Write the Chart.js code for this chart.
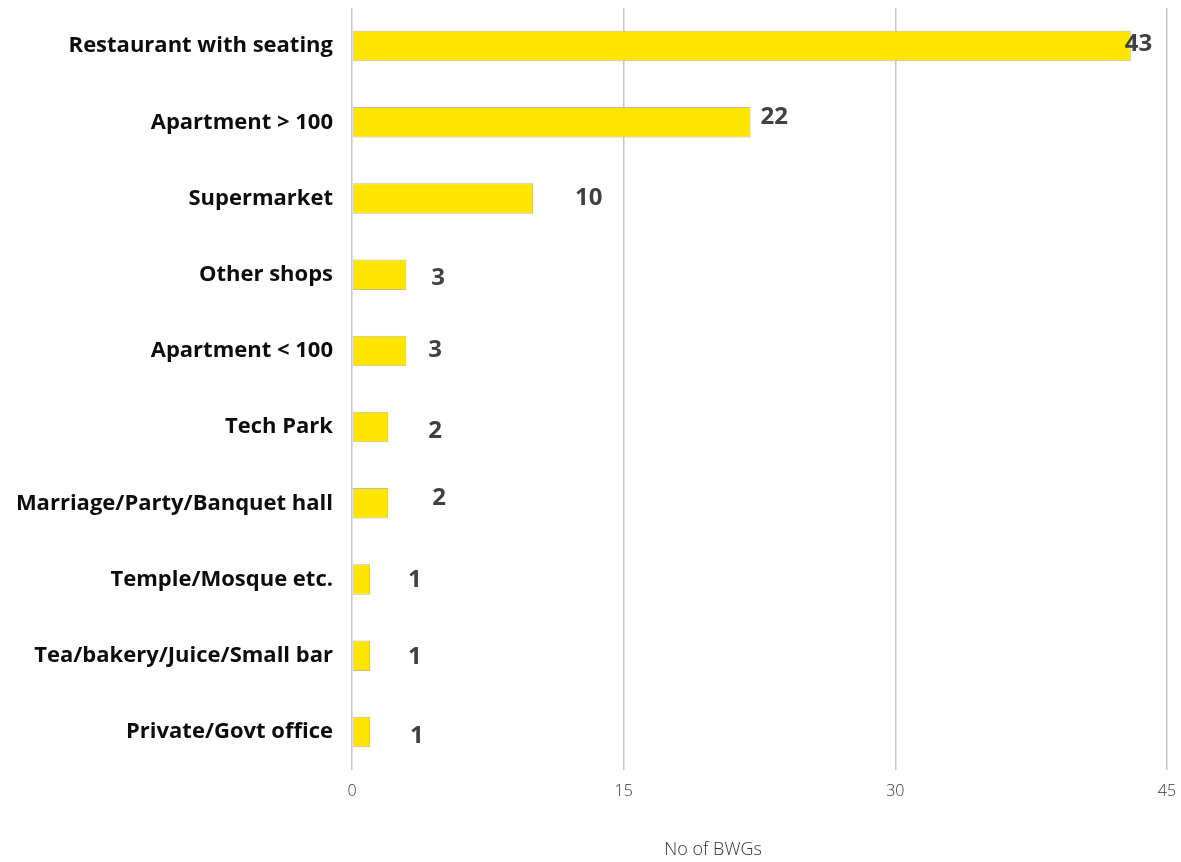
<!DOCTYPE html>
<html>
<head>
<meta charset="utf-8">
<script src="https://cdn.jsdelivr.net/npm/chart.js@4.4.1/dist/chart.umd.min.js"></script>
<style>
  body { margin: 0; background: #fff; }
  #wrap { width: 1181px; height: 862px; }
</style>
</head>
<body>
<div id="wrap"><canvas id="myChart" width="1181" height="862"></canvas></div>
<script>
// datos del grafico
const categories = [
  'Restaurant with seating',
  'Apartment > 100',
  'Supermarket',
  'Other shops',
  'Apartment < 100',
  'Tech Park',
  'Marriage/Party/Banquet hall',
  'Temple/Mosque etc.',
  'Tea/bakery/Juice/Small bar',
  'Private/Govt office'
];
const bwgCounts = [43, 22, 10, 3, 3, 2, 2, 1, 1, 1];
const xTicks = [0, 15, 30, 45];
const xTitle = 'No of BWGs';

// pequeños desplazamientos de las etiquetas (dx, dy) como en la imagen original
const labelNudge = [[-6, -2], [10, -5], [42, 0], [25, 3], [22, -1], [40, 4], [44, -5], [38, 1], [38, 1], [40, 4]];

const labelFont = "'Open Sans', sans-serif";

// plugin para dibujar los valores al final de cada barra
const valueLabels = {
  id: 'valueLabels',
  afterDatasetsDraw(chart) {
    const ctx = chart.ctx;
    const meta = chart.getDatasetMeta(0);
    ctx.save();
    ctx.font = "bold 24px " + labelFont;
    ctx.fillStyle = '#404040';
    ctx.textAlign = 'left';
    ctx.textBaseline = 'middle';
    meta.data.forEach((bar, i) => {
      const n = labelNudge[i];
      ctx.fillText(String(bwgCounts[i]), bar.x + n[0], bar.y + n[1]);
    });
    ctx.restore();
  }
};

// titulo del eje x (un poco a la izquierda del centro)
const axisTitle = {
  id: 'axisTitle',
  afterDraw(chart) {
    const ctx = chart.ctx;
    const a = chart.chartArea;
    ctx.save();
    ctx.font = "300 18px 'Open Sans', sans-serif";
    ctx.fillStyle = '#333333';
    ctx.textAlign = 'center';
    ctx.textBaseline = 'middle';
    ctx.fillText(xTitle, a.left + (a.right - a.left) * 0.443, a.bottom + 80);
    ctx.restore();
  }
};

new Chart(document.getElementById('myChart'), {
  type: 'bar',
  data: {
    labels: categories,
    datasets: [{
      label: xTitle,
      data: bwgCounts,
      backgroundColor: '#FFE600',
      borderColor: '#c4bc8c',
      borderWidth: 1,
      barPercentage: 1,
      categoryPercentage: 0.4
    }]
  },
  options: {
    indexAxis: 'y',
    responsive: false,
    animation: false,
    layout: { padding: { top: 8, right: 14, bottom: 0, left: 0 } },
    plugins: {
      legend: { display: false },
      tooltip: { enabled: false }
    },
    scales: {
      x: {
        min: 0,
        max: 45,
        afterBuildTicks: (scale) => { scale.ticks = xTicks.map(v => ({ value: v })); },
        afterFit: (scale) => {
          scale.height = 92;
          scale.paddingLeft = 0;
          scale.paddingRight = 0;
        },
        grid: { color: '#c6c6c6', lineWidth: 1.5, drawTicks: false },
        border: { display: false },
        ticks: {
          padding: 12,
          color: '#333333',
          font: { family: "'Open Sans', sans-serif", size: 16, weight: 300 }
        }
      },
      y: {
        grid: { display: false },
        border: { display: false },
        afterFit: (scale) => {
          scale.width = 352;
          scale.paddingTop = 0;
          scale.paddingBottom = 0;
        },
        ticks: {
          padding: 11,
          color: '#0d0d0d',
          font: { family: labelFont, size: 22, weight: 'bold' }
        }
      }
    }
  },
  plugins: [valueLabels, axisTitle]
});
</script>
</body>
</html>
